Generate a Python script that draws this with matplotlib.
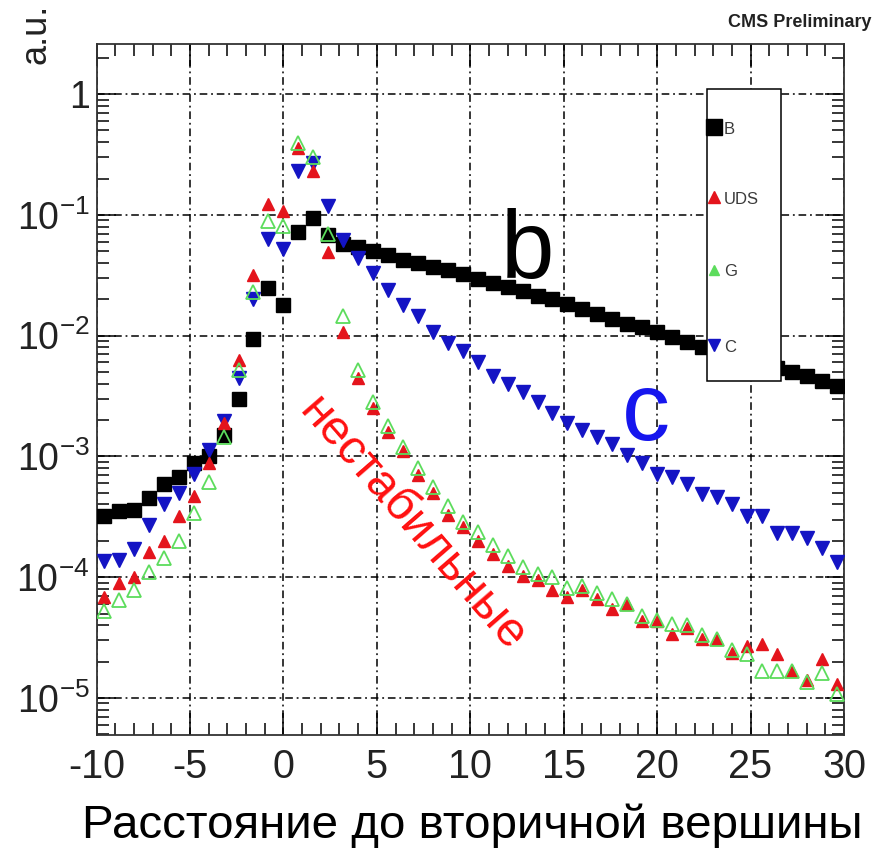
import numpy as np
import matplotlib
matplotlib.use("Agg")
import matplotlib.pyplot as plt
from matplotlib.lines import Line2D
from matplotlib.patches import Rectangle
from matplotlib.ticker import LogLocator, MultipleLocator, FixedLocator, NullFormatter

plt.rcParams['font.family'] = ['Liberation Sans', 'DejaVu Sans']
plt.rcParams['mathtext.fontset'] = 'custom'
plt.rcParams['mathtext.rm'] = 'Liberation Sans'
plt.rcParams['mathtext.it'] = 'Liberation Sans:italic'
plt.rcParams['mathtext.bf'] = 'Liberation Sans:bold'
plt.rcParams['axes.unicode_minus'] = False

# ---------------- data ----------------
x_min, x_max, n_bins = -10.0, 30.0, 50
bin_edges = np.linspace(x_min, x_max, n_bins + 1)
x_centers = 0.5 * (bin_edges[:-1] + bin_edges[1:])

b_values = [3.2e-4, 3.5e-4, 3.6e-4, 4.5e-4, 5.9e-4, 6.8e-4, 8.8e-4, 1.0e-3, 1.5e-3, 3.0e-3,
            9.4e-3, 0.025, 0.018, 0.072, 0.094, 0.068, 0.0575, 0.0537, 0.050, 0.0468,
            0.0427, 0.0398, 0.0372, 0.0347, 0.0324, 0.0295, 0.0275, 0.0251, 0.0234, 0.0214,
            0.020, 0.0182, 0.0166, 0.0151, 0.0138, 0.0126, 0.0117, 0.0107, 0.0098, 0.0089,
            0.0081, 0.0074, 0.0069, 0.0063, 0.0059, 0.0054, 0.0050, 0.0046, 0.0042, 0.0038]

uds_values = [6.8e-5, 8.9e-5, 1.0e-4, 1.6e-4, 2.0e-4, 3.2e-4, 4.7e-4, 8.9e-4, 1.9e-3, 6.3e-3,
              0.032, 0.122, 0.107, 0.36, 0.23, 0.049, 0.0108, 0.0045, 0.0025, 0.0016,
              0.0011, 7.0e-4, 5.0e-4, 3.3e-4, 2.6e-4, 2.0e-4, 1.55e-4, 1.23e-4, 1.02e-4, 9.4e-5,
              7.8e-5, 6.8e-5, 7.9e-5, 6.6e-5, 5.5e-5, 6.0e-5, 4.3e-5, 4.3e-5, 3.4e-5, 3.8e-5,
              3.1e-5, 3.1e-5, 2.35e-5, 2.7e-5, 2.8e-5, 2.3e-5, 1.66e-5, 1.4e-5, 2.1e-5, 1.3e-5]

g_values = [5.2e-5, 6.5e-5, 7.9e-5, 1.1e-4, 1.45e-4, 2.0e-4, 3.4e-4, 6.1e-4, 1.45e-3, 5.2e-3,
            0.023, 0.089, 0.081, 0.39, 0.30, 0.069, 0.0145, 0.0052, 0.0028, 0.0018,
            0.0012, 8.0e-4, 5.6e-4, 3.9e-4, 2.85e-4, 2.35e-4, 1.85e-4, 1.5e-4, 1.22e-4, 1.07e-4,
            1.0e-4, 8.2e-5, 8.5e-5, 7.4e-5, 6.6e-5, 6.0e-5, 4.8e-5, 4.4e-5, 4.1e-5, 4.0e-5,
            3.3e-5, 3.1e-5, 2.5e-5, 2.3e-5, 1.66e-5, 1.66e-5, 1.66e-5, 1.35e-5, 1.6e-5, 1.07e-5]

c_values = [1.35e-4, 1.4e-4, 1.7e-4, 2.7e-4, 4.0e-4, 5.0e-4, 7.1e-4, 1.14e-3, 1.95e-3, 4.5e-3,
            0.020, 0.063, 0.052, 0.23, 0.27, 0.118, 0.062, 0.044, 0.033, 0.024,
            0.018, 0.0145, 0.0108, 0.0087, 0.0074, 0.0060, 0.0046, 0.0040, 0.0034, 0.0028,
            0.0023, 0.0019, 0.00166, 0.00144, 0.00126, 0.00102, 0.00089, 0.00071, 0.00068, 0.00059,
            0.00049, 0.00046, 0.00040, 0.00032, 0.00032, 0.00023, 0.00023, 0.00021, 0.000173, 0.000134]

series_labels = ["B", "UDS", "G", "C"]
x_tick_values = [-10, -5, 0, 5, 10, 15, 20, 25, 30]
x_tick_labels = ["-10", "-5", "0", "5", "10", "15", "20", "25", "30"]
y_tick_values = [1e-5, 1e-4, 1e-3, 1e-2, 1e-1, 1]
y_tick_labels = ["$10^{-5}$", "$10^{-4}$", "$10^{-3}$", "$10^{-2}$", "$10^{-1}$", "1"]

# ---------------- figure ----------------
W, H = 882, 848
fig = plt.figure(figsize=(W / 100, H / 100), dpi=100)
fig.patch.set_facecolor('white')

def fx(px):
    return px / W

def fy(py):
    return 1 - py / H

ax_l, ax_r, ax_t, ax_b = 96.5, 844, 44, 735
ax = fig.add_axes([fx(ax_l), fy(ax_b), fx(ax_r) - fx(ax_l), fy(ax_t) - fy(ax_b)])
ax.set_yscale('log')
ax.set_xlim(x_min, x_max)
ax.set_ylim(4.93e-6, 2.6)

col_b = '#000000'
col_uds = '#e4141c'
col_g = '#5cdc5c'
col_c = '#1414c4'

ax.plot(x_centers, b_values, ls='none', marker='s', ms=10.5, color=col_b, mec=col_b, zorder=3)
ax.plot(x_centers, c_values, ls='none', marker='v', ms=9.5, color=col_c, mec=col_c, zorder=4)
ax.plot(x_centers, uds_values, ls='none', marker='^', ms=9.0, color=col_uds, mec=col_uds, zorder=5)
ax.plot(x_centers, g_values, ls='none', marker='^', ms=10.5, mfc='none', mec=col_g, mew=1.3, zorder=6)

# ticks
ax.xaxis.set_major_locator(FixedLocator(x_tick_values))
ax.set_xticklabels(x_tick_labels)
ax.xaxis.set_minor_locator(MultipleLocator(1))
ax.yaxis.set_major_locator(FixedLocator(y_tick_values))
ax.set_yticklabels(y_tick_labels)
ax.yaxis.set_minor_locator(LogLocator(base=10, subs=np.arange(2, 10)))
ax.yaxis.set_minor_formatter(NullFormatter())

ax.tick_params(axis='x', which='major', direction='in', length=16, width=1.1, top=True,
               labelsize=28.5, pad=9, colors='black')
ax.tick_params(axis='x', which='minor', direction='in', length=8.5, width=1.1, top=True)
ax.tick_params(axis='y', which='major', direction='in', length=14, width=1.1, right=True,
               labelsize=27, pad=5)
ax.tick_params(axis='y', which='minor', direction='in', length=8.5, width=1.1, right=True)
for lbl in ax.get_xticklabels() + ax.get_yticklabels():
    lbl.set_color('#222222')

for sp in ax.spines.values():
    sp.set_linewidth(1.3)
    sp.set_color('#333333')

ax.grid(which='major', color='black', linestyle=(0, (5, 2.5, 1.2, 2.5)), linewidth=1.1, zorder=1)
ax.set_axisbelow(True)

# legend box (manual, ROOT style)
leg_x0, leg_x1, leg_y0, leg_y1 = 707, 781, 89, 381
fig.add_artist(Rectangle((fx(leg_x0), fy(leg_y1)), fx(leg_x1) - fx(leg_x0), fy(leg_y0) - fy(leg_y1),
                         transform=fig.transFigure, facecolor='white', edgecolor='black',
                         linewidth=1.1, zorder=10))
leg_rows = [127, 197, 270, 345]
leg_styles = [dict(marker='s', ms=11, color=col_b, mec=col_b),
              dict(marker='^', ms=8, color=col_uds, mec=col_uds),
              dict(marker='^', ms=7, color=col_g, mec=col_g),
              dict(marker='v', ms=9, color=col_c, mec=col_c)]
for lbl, row, st in zip(series_labels, leg_rows, leg_styles):
    fig.add_artist(Line2D([fx(714)], [fy(row)], transform=fig.transFigure, ls='none', zorder=11, **st))
    fig.text(fx(724), fy(row + 2), lbl, fontsize=12, color='#3a3a3a', ha='left', va='center', zorder=12)

# annotations
fig.text(fx(527), fy(278), "b", fontsize=69, color='black', ha='center', va='baseline')
fig.text(fx(646), fy(440), "c", fontsize=69, color='#1616ee', ha='center', va='baseline')
fig.text(fx(412), fy(525), "нестабильные", fontsize=34.5, color='#ff1010', rotation=-49,
         rotation_mode='anchor', ha='center', va='center')

fig.text(fx(472), fy(838), "Расстояние до вторичной вершины", fontsize=34.2, color='black',
         ha='center', va='baseline')
fig.text(fx(872), fy(27), "CMS Preliminary", fontsize=13, fontweight='bold', color='#222222',
         ha='right', va='baseline')
fig.text(fx(36), fy(64), "a.u.", fontsize=26, color='#222222', rotation=90,
         ha='center', va='bottom')

fig.savefig('out.png', dpi=100, facecolor='white')
